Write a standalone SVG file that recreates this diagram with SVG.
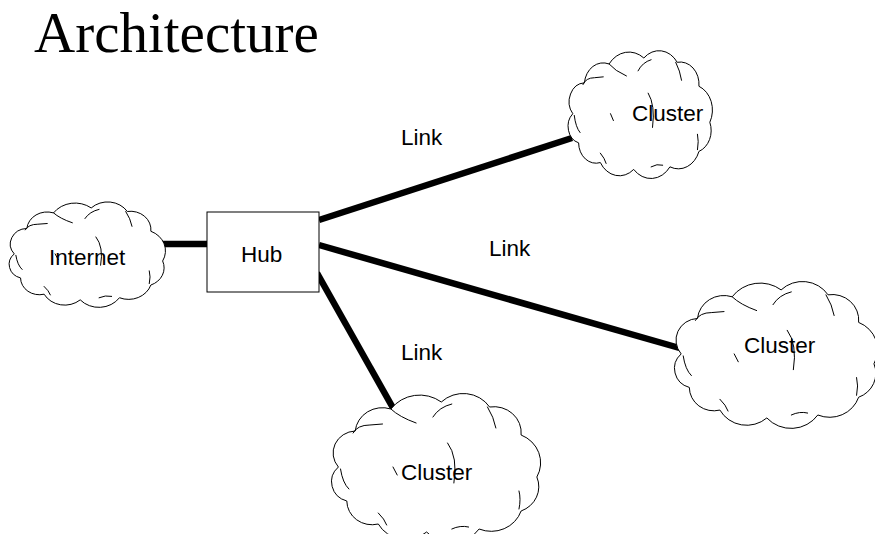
<svg xmlns="http://www.w3.org/2000/svg" xmlns:xlink="http://www.w3.org/1999/xlink" width="875" height="534" viewBox="0 0 875 534">
  <style>
    .cloud { fill: #fff; stroke: #000; stroke-width: 1; vector-effect: non-scaling-stroke; stroke-linejoin: round; }
    .inner { fill: none; stroke: #000; stroke-width: 1; vector-effect: non-scaling-stroke; stroke-linecap: round; }
    .box { fill: #fff; stroke: #000; stroke-width: 1; }
    .link { stroke: #000; stroke-width: 6.5; fill: none; }
    .lbl { font-family: "Liberation Sans", Arial, sans-serif; font-size: 22.5px; fill: #000; }
    .title { font-family: "Liberation Serif", "Times New Roman", serif; font-size: 57px; fill: #000; }
  </style>
  <defs>
    <!-- cloud outline in a 200 x 140 box -->
    <g id="cloudShape">
      <path class="cloud" d="M 8 72 A 22 22 0 0 1 24 36 A 26 26 0 0 1 58 14 A 34 34 0 0 1 106 7 A 30 30 0 0 1 152 12 A 26 26 0 0 1 182 40 A 30 30 0 0 1 197 82 A 26 26 0 0 1 182 116 A 30 30 0 0 1 142 134 A 32 32 0 0 1 92 137 A 30 30 0 0 1 46 129 A 24 24 0 0 1 16 106 A 20 20 0 0 1 8 72 Z"/>
      <path class="inner" d="M 22 38 Q 26 30 38 30 L 50 29"/>
      <path class="inner" d="M 58 14 Q 66 22 82 28"/>
      <path class="inner" d="M 98 22 Q 104 12 116 9"/>
      <path class="inner" d="M 150 12 Q 156 22 158 33"/>
      <path class="inner" d="M 112 48 Q 122 62 118 88"/>
      <path class="inner" d="M 60 72 L 64 80"/>
      <path class="inner" d="M 10 74 Q 12 88 18 94"/>
      <path class="inner" d="M 46 118 Q 52 124 54 130"/>
      <path class="inner" d="M 116 134 Q 124 130 132 132"/>
      <path class="inner" d="M 180 96 Q 182 104 180 114"/>
    </g>
  </defs>

  <text class="title" x="34" y="52">Architecture</text>

  <!-- connectors -->
  <g id="connectors">
    <line class="link" x1="163" y1="244" x2="208" y2="244"/>
    <line class="link" x1="319" y1="220" x2="572" y2="138"/>
    <line class="link" x1="319" y1="245" x2="683" y2="349"/>
    <line class="link" x1="317" y1="273" x2="393" y2="408"/>
    <text class="lbl" x="401" y="145">Link</text>
    <text class="lbl" x="489" y="256">Link</text>
    <text class="lbl" x="401" y="360">Link</text>
  </g>

  <g id="internet">
    <use xlink:href="#cloudShape" transform="translate(8 203) scale(0.785 0.707)"/>
    <text class="lbl" x="49" y="265">Internet</text>
  </g>

  <g id="hub">
    <rect class="box" x="207" y="212" width="112" height="80"/>
    <text class="lbl" x="241" y="262">Hub</text>
  </g>

  <g id="cluster-top">
    <use xlink:href="#cloudShape" transform="translate(567 52) scale(0.725 0.857)"/>
    <text class="lbl" x="632" y="121">Cluster</text>
  </g>

  <g id="cluster-right">
    <use xlink:href="#cloudShape" transform="translate(673 283) scale(1.02 0.985)"/>
    <text class="lbl" x="744" y="353">Cluster</text>
  </g>

  <g id="cluster-bottom">
    <use xlink:href="#cloudShape" transform="translate(330 395) scale(1.05 1.0)"/>
    <text class="lbl" x="401" y="480">Cluster</text>
  </g>
</svg>
